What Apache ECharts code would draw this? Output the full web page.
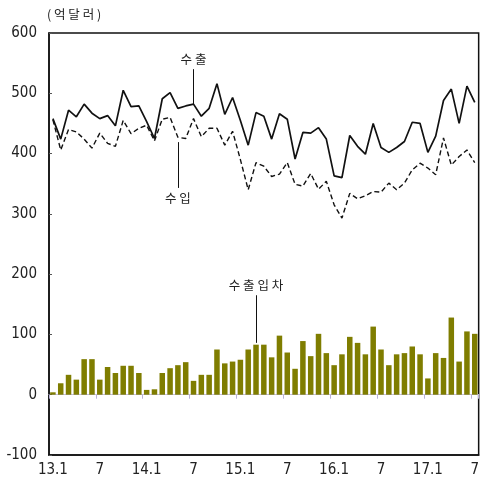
<!DOCTYPE html>
<html>
<head>
<meta charset="utf-8">
<script src="https://cdn.jsdelivr.net/npm/echarts@6/dist/echarts.min.js"></script>
<style>
html,body{margin:0;padding:0;background:#fff;}
#chart{width:482px;height:488px;}
</style>
</head>
<body>
<div id="chart"></div>
<script>
// Monthly categories 2013.1 - 2017.7
const categories = [];
for (let y = 13; y <= 17; y++) {
  for (let m = 1; m <= 12; m++) {
    if (y === 17 && m > 7) break;
    categories.push(y + '.' + m);
  }
}

// 수출 (exports, 억달러)
const exportsData = [458,424,472,461,482,467,458,463,446,505,478,479,
                     453,425,491,501,475,479,482,462,475,516,465,493,
                     455,414,468,462,424,466,457,391,435,434,443,424,
                     363,360,430,412,399,450,410,402,410,420,452,450,
                     402,429,488,507,450,512,485];

// 수입 (imports, 억달러)
const importsData = [456,406,440,436,424,409,434,417,412,455,433,442,
                     447,421,457,460,427,425,458,428,442,442,414,437,
                     390,340,385,379,362,366,385,349,346,367,341,354,
                     315,293,334,325,330,337,336,351,340,351,373,384,
                     376,365,426,381,395,406,385];

// 수출입차 (trade balance, 억달러)
const balanceData = [4,19,33,25,59,59,25,46,36,48,48,36,
                     8,9,36,44,49,54,23,33,33,75,52,55,
                     58,75,83,83,62,98,70,43,89,64,101,69,
                     49,67,96,86,67,113,75,49,67,69,80,67,
                     27,69,61,128,55,105,101];

const yTicks = {min: -100, max: 600, interval: 100};

const numFont = '"DejaVu Sans Condensed", "Liberation Sans Narrow", "Liberation Sans", sans-serif';
const korFont = '"Noto Sans CJK KR", sans-serif';

const chart = echarts.init(document.getElementById('chart'));

function catLabel(v) {
  const parts = v.split('.');
  if (parts[1] === '1') return v;
  if (parts[1] === '7') return '7';
  return '';
}

const annLabel = (txt) => ({
  show: true, position: 'end', formatter: txt, color: '#222',
  fontFamily: korFont, fontSize: 12.5, distance: 4
});

const option = {
  animation: false,
  backgroundColor: '#fff',
  grid: {
    left: 49, top: 33, width: 434.5, height: 422,
    show: true, borderColor: '#111', borderWidth: 1.5, backgroundColor: 'transparent'
  },
  graphic: [{
    type: 'text', left: 47, top: 8,
    style: {text: '( 억 달 러 )', font: '12.5px ' + korFont, fill: '#222'}
  }],
  xAxis: [{
    type: 'category', data: categories, position: 'bottom',
    boundaryGap: true,
    axisLine: {onZero: false, lineStyle: {color: '#111', width: 1.5}},
    axisTick: {show: false},
    axisLabel: {
      interval: 0, margin: 8, color: '#222',
      fontFamily: numFont, fontSize: 15,
      formatter: catLabel
    },
    splitLine: {show: false}
  }, {
    type: 'category', data: categories, position: 'bottom',
    boundaryGap: true,
    axisLine: {onZero: true, lineStyle: {color: '#c4bedf', width: 1.2}},
    axisTick: {show: true, interval: 5, length: 4, lineStyle: {color: '#b8b0d8'}},
    axisLabel: {show: false},
    splitLine: {show: false}
  }],
  yAxis: {
    type: 'value', min: yTicks.min, max: yTicks.max, interval: yTicks.interval,
    axisLine: {show: true, lineStyle: {color: '#111', width: 1.5}},
    axisTick: {show: true, inside: true, length: 3, lineStyle: {color: '#555'}},
    axisLabel: {margin: 12, color: '#222', fontFamily: numFont, fontSize: 15},
    splitLine: {show: false}
  },
  series: [{
    name: '수출입차', type: 'bar', data: balanceData, xAxisIndex: 0,
    barWidth: 5.5,
    itemStyle: {color: '#7f7d00'},
    markLine: {
      silent: true, symbol: 'none',
      lineStyle: {color: '#111', width: 1, type: 'solid'},
      label: annLabel('수 출 입 차'),
      data: [[{coord: ['15.3', 86]}, {coord: ['15.3', 165]}]]
    }
  }, {
    name: '수출', type: 'line', data: exportsData, xAxisIndex: 0,
    symbol: 'none',
    lineStyle: {color: '#111', width: 1.7},
    markLine: {
      silent: true, symbol: 'none',
      lineStyle: {color: '#111', width: 1, type: 'solid'},
      label: annLabel('수 출'),
      data: [[{coord: ['14.7', 482]}, {coord: ['14.7', 540]}]]
    }
  }, {
    name: '수입', type: 'line', data: importsData, xAxisIndex: 0,
    symbol: 'none',
    lineStyle: {color: '#111', width: 1.4, type: [5, 3]},
    markLine: {
      silent: true, symbol: 'none',
      lineStyle: {color: '#111', width: 1, type: 'solid'},
      label: annLabel('수 입'),
      data: [[{coord: ['14.5', 419]}, {coord: ['14.5', 343]}]]
    }
  }]
};

chart.setOption(option);
</script>
</body>
</html>
